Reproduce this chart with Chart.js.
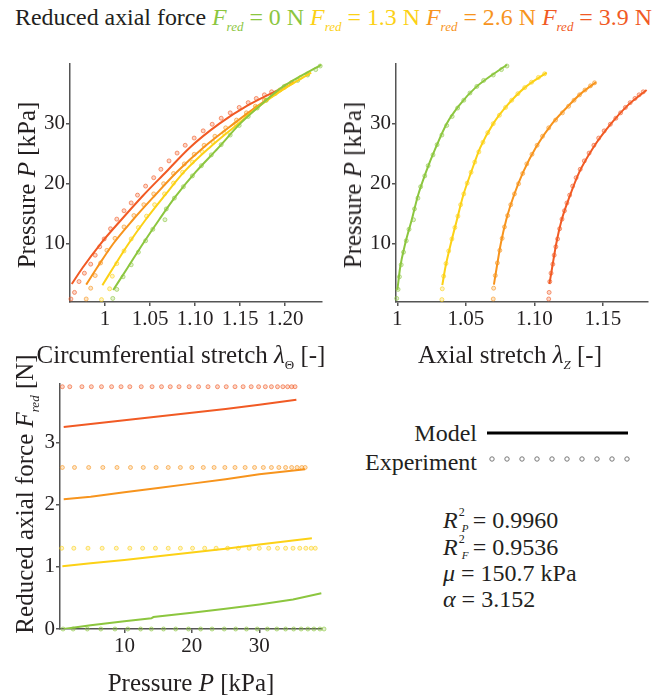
<!DOCTYPE html>
<html>
<head>
<meta charset="utf-8">
<script src="https://cdn.jsdelivr.net/npm/chart.js@4.4.1/dist/chart.umd.min.js"></script>
<style>
body{margin:0;background:#fff;width:657px;height:698px;position:relative;overflow:hidden;font-family:'Liberation Serif','Times New Roman',serif;color:#231f20}
.box{position:absolute}
.txt{position:absolute;white-space:nowrap;font-size:24px;line-height:24px}
.ttl{font-size:25px}
.rot{transform:translate(-50%,-50%) rotate(-90deg)}
.ctr{transform:translate(-50%,-50%)}
.sr{font-size:13px;font-style:italic;position:relative;top:6px}
.ss{display:inline-block;position:relative;width:15px;height:20px;vertical-align:baseline}
.ss .sp{position:absolute;left:1px;top:-8px;font-size:12px}
.ss .sb{position:absolute;left:4px;top:8px;font-size:11px;font-style:italic}
</style>
</head>
<body>

<div class="txt" style="left:15px;top:5px;font-size:23.9px">Reduced axial force
<span style="color:#8cc63f"><i>F</i><span class="sr">red</span> = 0 N</span>
<span style="color:#fcd116"><i>F</i><span class="sr">red</span> = 1.3 N</span>
<span style="color:#f7941d"><i>F</i><span class="sr">red</span> = 2.6 N</span>
<span style="color:#f15a24"><i>F</i><span class="sr">red</span> = 3.9 N</span></div>

<div class="box" style="left:14px;top:50px"><canvas id="cCirc" width="316" height="292"></canvas></div>
<div class="box" style="left:340px;top:50px"><canvas id="cAxial" width="316" height="292"></canvas></div>
<div class="box" style="left:4px;top:370px"><canvas id="cForce" width="326" height="300"></canvas></div>

<div class="txt ttl rot" style="left:27px;top:185px">Pressure <i>P</i> [kPa]</div>
<div class="txt ttl rot" style="left:353px;top:185px">Pressure <i>P</i> [kPa]</div>
<div class="txt ttl rot" style="left:27px;top:494px">Reduced axial force <i>F</i><span class="sr">red</span> [N]</div>
<div class="txt ttl ctr" style="left:181px;top:357px">Circumferential stretch <i>λ</i><span class="sr" style="font-style:normal">Θ</span> [-]</div>
<div class="txt ttl ctr" style="left:510px;top:357px">Axial stretch <i>λ</i><span class="sr">Z</span> [-]</div>
<div class="txt ttl ctr" style="left:191px;top:683px">Pressure <i>P</i> [kPa]</div>

<div class="txt" style="right:180px;top:421px">Model</div>
<div class="txt" style="right:180px;top:450px">Experiment</div>
<svg class="box" style="left:480px;top:420px" width="160" height="50">
  <line x1="7" y1="13" x2="148" y2="13" stroke="#000" stroke-width="3"/>
  <g fill="none" stroke="#777" stroke-width="1">
    <circle cx="12" cy="39" r="2.2"/><circle cx="27" cy="39" r="2.2"/><circle cx="42" cy="39" r="2.2"/>
    <circle cx="57" cy="39" r="2.2"/><circle cx="72" cy="39" r="2.2"/><circle cx="87" cy="39" r="2.2"/>
    <circle cx="102" cy="39" r="2.2"/><circle cx="117" cy="39" r="2.2"/><circle cx="132" cy="39" r="2.2"/>
    <circle cx="147" cy="39" r="2.2"/>
  </g>
</svg>

<div class="txt" style="left:443px;top:508px"><i>R</i><span class="ss"><span class="sp">2</span><span class="sb">P</span></span>= 0.9960</div>
<div class="txt" style="left:443px;top:535px"><i>R</i><span class="ss"><span class="sp">2</span><span class="sb">F</span></span>= 0.9536</div>
<div class="txt" style="left:443px;top:561px"><i>μ</i> = 150.7 kPa</div>
<div class="txt" style="left:443px;top:587px"><i>α</i> = 3.152</div>

<script>
// series: F_red = 0, 1.3, 2.6, 3.9 N
const seriesColors = ['#8cc63f', '#fcd116', '#f7941d', '#f15a24'];
const forceLevels = [0, 1.3, 2.6, 3.9];

// model curves (pressure in kPa)
const modelPressure = [
  [2.3, 6, 10, 14, 18, 22, 26, 30, 33, 36, 39.8],
  [3.1, 6, 10, 14, 18, 22, 26, 30, 33, 36, 38.5],
  [3.2, 6, 10, 14, 18, 22, 26, 30, 33, 35, 36.9],
  [3.3, 6, 10, 14, 18, 22, 26, 30, 33, 35.6]
];
const modelLamTheta = [
  [1.009, 1.025, 1.042, 1.060, 1.079, 1.101, 1.126, 1.150, 1.172, 1.196, 1.240],
  [0.997, 1.009, 1.026, 1.045, 1.066, 1.088, 1.116, 1.148, 1.172, 1.201, 1.229],
  [0.979, 0.991, 1.009, 1.031, 1.055, 1.080, 1.109, 1.143, 1.170, 1.190, 1.210],
  [0.963, 0.975, 0.995, 1.018, 1.042, 1.068, 1.094, 1.127, 1.158, 1.192]
];
const modelLamZ = [
  [1.000, 1.002, 1.0057, 1.0105, 1.015, 1.021, 1.028, 1.036, 1.045, 1.057, 1.080],
  [1.0328, 1.035, 1.039, 1.0435, 1.048, 1.054, 1.0605, 1.070, 1.080, 1.093, 1.109],
  [1.0705, 1.0725, 1.0755, 1.0795, 1.085, 1.092, 1.101, 1.113, 1.125, 1.134, 1.145],
  [1.111, 1.113, 1.116, 1.120, 1.126, 1.133, 1.143, 1.156, 1.168, 1.182]
];
const modelForcePressure = [
  [1.0, 5, 10, 14, 14.3, 20, 25, 30, 35, 39.2],
  [0.8, 5, 10, 15, 20, 25, 30, 37.8],
  [1.0, 5, 10, 15, 20, 25, 30, 36.8],
  [1.0, 5, 10, 15, 20, 25, 30, 35.5]
];
const modelForce = [
  [0.0, 0.06, 0.125, 0.172, 0.192, 0.262, 0.325, 0.395, 0.475, 0.575],
  [1.01, 1.06, 1.11, 1.17, 1.23, 1.29, 1.36, 1.46],
  [2.09, 2.13, 2.20, 2.27, 2.34, 2.41, 2.49, 2.57],
  [3.25, 3.30, 3.36, 3.42, 3.48, 3.54, 3.61, 3.69]
];

// experiment (force held at forceLevels)
const expPressure = [
  [0.9, 2.4, 4.5, 6.5, 8.6, 10.5, 12.4, 14.0, 15.8, 17.6, 19.5, 21.3, 23.0, 24.8, 26.5, 28.1, 29.7, 31.2, 32.6, 33.9, 35.1, 36.2, 37.2, 38.1, 39.0, 39.6],
  [0.7, 2.5, 4.6, 6.7, 8.8, 10.8, 12.7, 14.6, 16.5, 18.3, 20.1, 21.9, 23.6, 25.3, 26.9, 28.5, 30.0, 31.4, 32.7, 33.9, 35.0, 36.0, 36.9, 37.7, 38.3],
  [0.8, 2.6, 4.7, 6.8, 8.9, 10.9, 12.8, 14.7, 16.5, 18.3, 20.0, 21.7, 23.3, 24.9, 26.4, 27.9, 29.3, 30.6, 31.8, 32.9, 33.9, 34.8, 35.6, 36.3, 36.8],
  [0.8, 1.9, 3.7, 5.1, 6.6, 8.1, 9.5, 10.8, 12.5, 14.1, 15.5, 16.8, 18.1, 19.6, 21.0, 22.4, 23.8, 25.1, 26.4, 27.6, 28.8, 29.9, 30.9, 31.8, 32.7, 33.5, 34.2, 34.8, 35.3]
];
const expLamTheta = [
  [1.0085, 1.013, 1.020, 1.029, 1.037, 1.045, 1.053, 1.0665, 1.068, 1.077, 1.087, 1.097, 1.107, 1.118, 1.129, 1.139, 1.149, 1.159, 1.169, 1.179, 1.189, 1.199, 1.214, 1.225, 1.234, 1.239],
  [0.996, 1.005, 1.008, 1.013, 1.021, 1.029, 1.037, 1.046, 1.055, 1.066, 1.076, 1.086, 1.097, 1.108, 1.120, 1.132, 1.145, 1.157, 1.168, 1.179, 1.189, 1.199, 1.208, 1.217, 1.225],
  [0.979, 0.984, 0.989, 0.995, 1.002, 1.011, 1.021, 1.032, 1.043, 1.054, 1.065, 1.076, 1.088, 1.099, 1.110, 1.122, 1.134, 1.146, 1.157, 1.167, 1.177, 1.186, 1.194, 1.201, 1.207],
  [0.962, 0.966, 0.971, 0.977, 0.984, 0.989, 0.994, 0.999, 1.006, 1.013, 1.021, 1.029, 1.036, 1.045, 1.054, 1.062, 1.071, 1.080, 1.089, 1.099, 1.109, 1.119, 1.129, 1.139, 1.149, 1.159, 1.168, 1.177, 1.185]
];
const expLamZ = [
  [0.9995, 1.0005, 1.0015, 1.0028, 1.0045, 1.0065, 1.0085, 1.0118, 1.0125, 1.015, 1.017, 1.020, 1.0225, 1.026, 1.029, 1.0325, 1.036, 1.040, 1.044, 1.0485, 1.053, 1.058, 1.063, 1.070, 1.076, 1.080],
  [1.0325, 1.0328, 1.0338, 1.0355, 1.0375, 1.0398, 1.042, 1.0442, 1.0462, 1.0485, 1.051, 1.0538, 1.0565, 1.0595, 1.0625, 1.066, 1.070, 1.0745, 1.079, 1.0835, 1.088, 1.093, 1.098, 1.103, 1.1075],
  [1.0700, 1.0703, 1.0715, 1.073, 1.0748, 1.0765, 1.0782, 1.0805, 1.0828, 1.0855, 1.0885, 1.0915, 1.0945, 1.0983, 1.102, 1.106, 1.1105, 1.1155, 1.1205, 1.125, 1.129, 1.133, 1.137, 1.141, 1.144],
  [1.1105, 1.1108, 1.1113, 1.1122, 1.1135, 1.1145, 1.1157, 1.117, 1.1185, 1.1202, 1.122, 1.1238, 1.1258, 1.128, 1.1305, 1.1335, 1.1365, 1.140, 1.1435, 1.147, 1.151, 1.1555, 1.1595, 1.163, 1.1665, 1.170, 1.1735, 1.1765, 1.1795]
];

// tick positions and labels
const circTicks = [1, 1.05, 1.10, 1.15, 1.20];
const circLabels = ['1', '1.05', '1.10', '1.15', '1.20'];
const axialTicks = [1, 1.05, 1.10, 1.15];
const axialLabels = ['1', '1.05', '1.10', '1.15'];
const pressTicks = [10, 20, 30];
const pressLabels = ['10', '20', '30'];
const forceTicks = [0, 1, 2, 3];
const forceLabels = ['0', '1', '2', '3'];

function alpha(hex, a) {
  const n = parseInt(hex.slice(1), 16);
  return 'rgba(' + (n >> 16) + ',' + ((n >> 8) & 255) + ',' + (n & 255) + ',' + a + ')';
}

function axis(min, max, ticks, labels, size) {
  return {
    type: 'linear', min: min, max: max,
    border: { color: '#555', width: 1.5 },
    grid: { drawOnChartArea: false, drawTicks: true, tickLength: 4, color: '#555', lineWidth: 1.5 },
    ticks: {
      autoSkip: false, padding: 1, maxRotation: 0, color: '#231f20',
      font: { family: "'Liberation Serif', 'Times New Roman', serif", size: 21 },
      callback: (v, i) => labels[i]
    },
    afterBuildTicks: s => { s.ticks = ticks.map(v => ({ value: v })); },
    afterFit: s => { if (s.isHorizontal()) s.height = size; else s.width = size; }
  };
}

function modelSet(i, xs, ys, smooth) {
  return {
    data: xs.map((x, j) => ({ x: x, y: ys[j] })),
    showLine: true, pointRadius: 0, borderWidth: 2,
    borderColor: seriesColors[i], order: 1,
    cubicInterpolationMode: smooth ? 'monotone' : 'default', tension: 0
  };
}

function expSet(i, xs, ys) {
  return {
    data: xs.map((x, j) => ({ x: x, y: ys[j] })),
    showLine: false, pointRadius: 2, pointBorderWidth: 1,
    borderColor: alpha(seriesColors[i], 0.6), backgroundColor: alpha(seriesColors[i], 0.25),
    clip: false, order: 2
  };
}

function draw(id, datasets, xAxis, yAxis, pad) {
  new Chart(document.getElementById(id), {
    type: 'scatter',
    data: { datasets: datasets },
    options: {
      responsive: false, animation: false, devicePixelRatio: 1,
      layout: { padding: pad },
      plugins: { legend: { display: false }, tooltip: { enabled: false } },
      scales: { x: xAxis, y: yAxis }
    }
  });
}

const circSets = [], axialSets = [], forceSets = [];
for (let i = 0; i < 4; i++) {
  circSets.push(modelSet(i, modelLamTheta[i], modelPressure[i], true));
  circSets.push(expSet(i, expLamTheta[i], expPressure[i]));
  axialSets.push(modelSet(i, modelLamZ[i], modelPressure[i], true));
  axialSets.push(expSet(i, expLamZ[i], expPressure[i]));
  forceSets.push(modelSet(i, modelForcePressure[i], modelForce[i], false));
  forceSets.push(expSet(i, expPressure[i], expPressure[i].map(() => forceLevels[i])));
}

draw('cCirc', circSets,
  axis(0.961, 1.241, circTicks, circLabels, 40),
  axis(0.3, 40, pressTicks, pressLabels, 56),
  { top: 10, right: 8, left: 0, bottom: 0 });
draw('cAxial', axialSets,
  axis(0.999, 1.183, axialTicks, axialLabels, 40),
  axis(0.3, 40, pressTicks, pressLabels, 56),
  { top: 10, right: 8, left: 0, bottom: 0 });
draw('cForce', forceSets,
  axis(0.45, 39.3, pressTicks, pressLabels, 41),
  axis(0, 3.95, forceTicks, forceLabels, 56),
  { top: 10, right: 8, left: 0, bottom: 0 });
</script>
</body>
</html>
